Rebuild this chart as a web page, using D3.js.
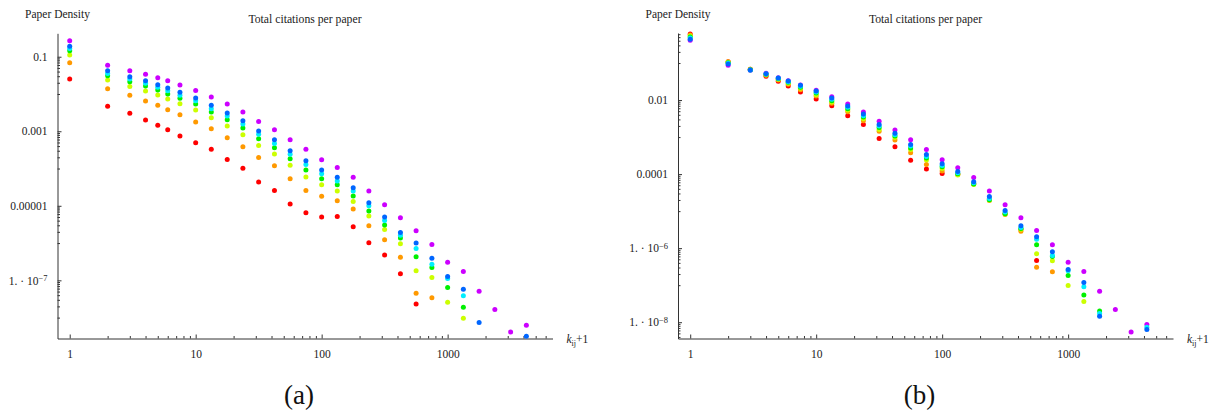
<!DOCTYPE html>
<html>
<head>
<meta charset="utf-8">
<script src="https://cdn.jsdelivr.net/npm/d3@7"></script>
<style>
  html, body { margin: 0; padding: 0; background: #fff; }
  svg { display: block; }
  svg text { font-family: "Liberation Serif", "Times New Roman", Times, "DejaVu Serif", serif; }
</style>
</head>
<body>
<svg id="chart" width="1221" height="410"></svg>
<script>
// Log-binned citation counts (k_ij + 1), shared by both panels
const citations = [1, 2, 3, 4, 5, 6, 7.5, 10, 13.3, 17.8, 23.7, 31.6, 42.2, 56.2, 75, 100, 133, 178, 237, 316, 422, 562, 750, 1000, 1333, 1778, 2371, 3162, 4217];

// Axis ticks
const xTicks = [1, 10, 100, 1000];
const xTickLabels = ["1", "10", "100", "1000"];
const yTicksA = [0.1, 0.001, 0.00001, 1e-7];
const yTickLabelsA = ["0.1", "0.001", "0.00001", "1. \u00b7 10^\u22127"];
const yTicksB = [0.01, 0.0001, 1e-6, 1e-8];
const yTickLabelsB = ["0.01", "0.0001", "1. \u00b7 10^\u22126", "1. \u00b7 10^\u22128"];

// Panel (a): paper density per citation bin
const panelA_red    = [0.0252, 0.00466, 0.00302, 0.0020, 0.00144, 0.0011, 7.43e-4, 4.91e-4, 3.27e-4, 1.76e-4, 1.01e-4, 4.33e-5, 2.59e-5, 1.11e-5, 6.49e-6, 4.97e-6, 5.19e-6, 2.73e-6, 1.02e-6, 4.75e-7, 1.50e-7, 2.30e-8, null, null, null, null, null, null, null];
const panelA_orange = [0.069, 0.0138, 0.0092, 0.00646, 0.00496, 0.00378, 0.00277, 0.00177, 0.00117, 6.69e-4, 3.84e-4, 1.99e-4, 1.19e-4, 5.31e-5, 2.59e-5, 1.79e-5, 1.36e-5, 8.15e-6, 2.90e-6, 1.22e-6, 4.19e-7, 4.53e-8, 3.39e-8, null, null, null, null, null, null];
const panelA_yellow = [0.111, 0.0237, 0.0160, 0.0120, 0.00937, 0.00732, 0.00547, 0.00371, 0.0023, 0.00138, 8.05e-4, 4.18e-4, 2.44e-4, 1.22e-4, 5.89e-5, 3.66e-5, 2.48e-5, 1.31e-5, 5.29e-6, 2.32e-6, 9.54e-7, 1.80e-7, 1.20e-7, 2.60e-8, 9.66e-9, null, null, null, null];
const panelA_green  = [0.145, 0.0309, 0.0213, 0.0163, 0.0128, 0.00997, 0.00764, 0.00537, 0.00328, 0.00204, 0.00122, 6.29e-4, 3.61e-4, 1.83e-4, 9.08e-5, 5.31e-5, 3.66e-5, 1.82e-5, 7.20e-6, 3.03e-6, 1.36e-6, 4.27e-7, 2.22e-7, 6.45e-8, 1.91e-8, null, null, null, null];
const panelA_cyan   = [0.166, 0.0354, 0.0252, 0.0193, 0.0151, 0.0122, 0.0092, 0.00659, 0.00402, 0.00256, 0.00156, 8.25e-4, 4.73e-4, 2.40e-4, 1.29e-4, 7.23e-5, 4.60e-5, 2.48e-5, 1.0e-5, 4.05e-6, 1.63e-6, 7.18e-7, 2.72e-7, 1.12e-7, 3.84e-8, null, null, null, null];
const panelA_blue   = [0.190, 0.0421, 0.029, 0.0227, 0.0177, 0.0144, 0.0111, 0.00778, 0.00496, 0.00308, 0.00191, 0.00101, 5.91e-4, 3.00e-4, 1.61e-4, 9.08e-5, 5.79e-5, 3.04e-5, 1.20e-5, 4.97e-6, 1.93e-6, 9.97e-7, 3.94e-7, 1.27e-7, 5.80e-8, 7.41e-9, null, null, 3.18e-9];
const panelA_violet = [0.269, 0.0588, 0.0421, 0.0337, 0.0273, 0.0227, 0.0174, 0.0125, 0.00828, 0.00537, 0.00328, 0.00184, 0.0011, 5.91e-4, 3.27e-4, 1.72e-4, 1.07e-4, 5.79e-5, 2.48e-5, 1.06e-5, 4.76e-6, 2.13e-6, 9.2e-7, 3.08e-7, 1.73e-7, 5.13e-8, 1.65e-8, 4.14e-9, 6.27e-9];

// Panel (b): rescaled paper density per citation bin
const panelB_red    = [0.608, 0.108, 0.0676, 0.0437, 0.032, 0.0239, 0.01645, 0.01064, 0.00701, 0.00376, 0.0022, 9.22e-4, 5.47e-4, 2.35e-4, 1.365e-4, 1.044e-4, 1.0e-4, 5.47e-5, 2.11e-5, 8.67e-6, 3.26e-6, 4.65e-7, null, null, null, null, null, null, null];
const panelB_orange = [0.571, 0.108, 0.0676, 0.0465, 0.0347, 0.0266, 0.019, 0.01282, 0.00814, 0.00483, 0.00276, 0.001426, 8.30e-4, 3.76e-4, 1.83e-4, 1.205e-4, 9.81e-5, 5.37e-5, 1.946e-5, 8.14e-6, 2.88e-6, 3.07e-7, 2.29e-7, null, null, null, null, null, null];
const panelB_yellow = [0.537, 0.1044, 0.0659, 0.0483, 0.0363, 0.0283, 0.0207, 0.0139, 0.00883, 0.00537, 0.00312, 0.00161, 9.81e-4, 4.65e-4, 2.39e-4, 1.426e-4, 9.40e-5, 5.27e-5, 1.983e-5, 8.30e-6, 3.26e-6, 7.01e-7, 4.54e-7, 9.81e-8, 3.63e-8, null, null, null, null];
const panelB_green  = [0.504, 0.1019, 0.0659, 0.0495, 0.0376, 0.0301, 0.022, 0.01546, 0.00957, 0.00582, 0.00347, 0.00181, 0.001064, 5.04e-4, 2.71e-4, 1.575e-4, 1.019e-4, 5.37e-5, 2.02e-5, 8.45e-6, 3.41e-6, 1.228e-6, 5.97e-7, 1.83e-7, 5.47e-8, 2.02e-8, null, null, null];
const panelB_cyan   = [0.474, 0.0983, 0.0647, 0.0504, 0.0386, 0.0312, 0.0235, 0.01645, 0.01044, 0.00635, 0.00376, 0.00198, 0.001154, 5.71e-4, 3.01e-4, 1.718e-4, 1.084e-4, 5.82e-5, 2.20e-5, 9.40e-6, 3.63e-6, 1.75e-6, 6.35e-7, 2.435e-7, 9.00e-8, 1.718e-8, null, null, 7.33e-9];
const panelB_blue   = [0.437, 0.094, 0.0647, 0.0514, 0.0393, 0.0326, 0.025, 0.0175, 0.01133, 0.00688, 0.00418, 0.0022, 0.001259, 6.35e-4, 3.41e-4, 1.90e-4, 1.183e-4, 6.19e-5, 2.50e-5, 1.044e-5, 4.01e-6, 2.02e-6, 7.94e-7, 2.66e-7, 1.183e-7, 1.453e-8, null, null, 6.35e-9];
const panelB_violet = [0.411, 0.0867, 0.0635, 0.0527, 0.0401, 0.0332, 0.0254, 0.0183, 0.01228, 0.0078, 0.00474, 0.00266, 0.001546, 8.45e-4, 4.65e-4, 2.435e-4, 1.48e-4, 8.14e-5, 3.47e-5, 1.48e-5, 6.59e-6, 3.01e-6, 1.228e-6, 4.18e-7, 2.35e-7, 6.88e-8, 2.20e-8, 5.47e-9, 8.67e-9];

// Series order (drawing order) and colours
const seriesOrder = ["violet", "red", "orange", "yellow", "green", "cyan", "blue"];
const seriesColors = {
  red: "#ff0000", orange: "#ff9900", yellow: "#ccff00", green: "#00f000",
  cyan: "#00eeff", blue: "#0066ff", violet: "#cc00ff"
};

const panels = [
  {
    tag: "(a)", left: 57.5, top: 33.3, yDomain: [2.75e-9, 0.425],
    yTicks: yTicksA, yLabels: yTickLabelsA,
    data: { red: panelA_red, orange: panelA_orange, yellow: panelA_yellow, green: panelA_green,
            cyan: panelA_cyan, blue: panelA_blue, violet: panelA_violet }
  },
  {
    tag: "(b)", left: 678, top: 33, yDomain: [3.63e-9, 0.647],
    yTicks: yTicksB, yLabels: yTickLabelsB,
    data: { red: panelB_red, orange: panelB_orange, yellow: panelB_yellow, green: panelB_green,
            cyan: panelB_cyan, blue: panelB_blue, violet: panelB_violet }
  }
];

const svg = d3.select("#chart");
const FONT = "Liberation Serif, Times New Roman, Times, DejaVu Serif, serif";
const plotWidth = 495;
const bottom = 338.5;
const xDomain = [0.8, 6800];
const axisColor = "#333";

function minorTicks(majors, domain, factors) {
  const [lo, hi] = domain;
  const out = [];
  majors.forEach(M => factors.forEach(f => {
    const v = M * f;
    if (v >= lo && v <= hi) out.push(v);
  }));
  return out;
}

function styleAxis(sel) {
  sel.attr("font-family", FONT).attr("font-size", 11.5);
  sel.selectAll("path.domain").attr("stroke", axisColor).attr("stroke-width", 1);
  sel.selectAll(".tick line").attr("stroke", axisColor).attr("stroke-width", 1);
  sel.selectAll(".tick text").attr("fill", "#222");
}

panels.forEach(p => {
  const g = svg.append("g").attr("font-family", FONT);
  const x = d3.scaleLog().domain(xDomain).range([p.left, p.left + plotWidth]);
  const y = d3.scaleLog().domain(p.yDomain).range([bottom, p.top]);

  // x axis: major ticks with labels, minor ticks pointing into the plot
  const xMinor = minorTicks([1, 10, 100, 1000], xDomain, [2, 3, 4, 5, 6, 7, 8, 9]);
  g.append("g")
    .attr("transform", `translate(0,${bottom})`)
    .call(d3.axisBottom(x).tickValues(xMinor).tickSize(-2.5).tickSizeOuter(0).tickFormat(""))
    .call(s => s.select("path.domain").remove())
    .call(styleAxis);
  g.append("g")
    .attr("transform", `translate(0,${bottom})`)
    .call(d3.axisBottom(x).tickValues(xTicks).tickSize(-4).tickSizeOuter(0)
      .tickPadding(11).tickFormat((d, i) => xTickLabels[i]))
    .call(styleAxis);

  // y axis
  const yMajorAll = [p.yTicks[0] * 100].concat(p.yTicks);
  const yMinor = minorTicks(yMajorAll, p.yDomain, [0.9, 0.8, 0.7, 0.6, 0.5, 0.4, 0.3, 0.2, 0.1]);
  g.append("g")
    .attr("transform", `translate(${p.left},0)`)
    .call(d3.axisLeft(y).tickValues(yMinor).tickSize(-2.5).tickSizeOuter(0).tickFormat(""))
    .call(s => s.select("path.domain").remove())
    .call(styleAxis);
  const yAx = g.append("g")
    .attr("transform", `translate(${p.left},0)`)
    .call(d3.axisLeft(y).tickValues(p.yTicks).tickSize(-4).tickSizeOuter(0)
      .tickPadding(10).tickFormat((d, i) => p.yLabels[i]))
    .call(styleAxis);

  // Mantissa · 10^exponent labels
  yAx.selectAll(".tick text").each(function () {
    const t = d3.select(this);
    const s = t.text();
    if (s.indexOf("^") < 0) return;
    const [base, exp] = s.split("^");
    t.text(null);
    t.append("tspan").text(base);
    t.append("tspan").attr("dy", "-0.45em").attr("font-size", 8.5).text(exp);
  });

  // Data points
  seriesOrder.forEach(name => {
    const vals = p.data[name];
    const pts = citations.map((c, i) => ({ c, v: vals[i] })).filter(d => d.v != null);
    g.append("g")
      .selectAll("circle")
      .data(pts)
      .join("circle")
      .attr("cx", d => x(d.c))
      .attr("cy", d => y(d.v))
      .attr("r", 2.5)
      .attr("fill", seriesColors[name]);
  });

  // Axis captions and title
  g.append("text")
    .attr("x", p.left).attr("y", 17.5)
    .attr("text-anchor", "middle")
    .attr("font-size", 11.5).attr("fill", "#222")
    .text("Paper Density");
  g.append("text")
    .attr("x", p.left + plotWidth / 2).attr("y", 23)
    .attr("text-anchor", "middle")
    .attr("font-size", 11.7).attr("fill", "#222")
    .text("Total citations per paper");

  const xl = g.append("text")
    .attr("x", p.left + plotWidth + 14).attr("y", bottom + 4)
    .attr("font-size", 11.5).attr("fill", "#222");
  xl.append("tspan").attr("font-style", "italic").text("k");
  xl.append("tspan").attr("dy", 3).attr("font-size", 8).text("ij");
  xl.append("tspan").attr("dy", -3).text("+1");

  // Panel tag
  g.append("text")
    .attr("x", p.left + 241.5).attr("y", 404)
    .attr("text-anchor", "middle")
    .attr("font-size", 27).attr("fill", "#111")
    .text(p.tag);
});
</script>
</body>
</html>
